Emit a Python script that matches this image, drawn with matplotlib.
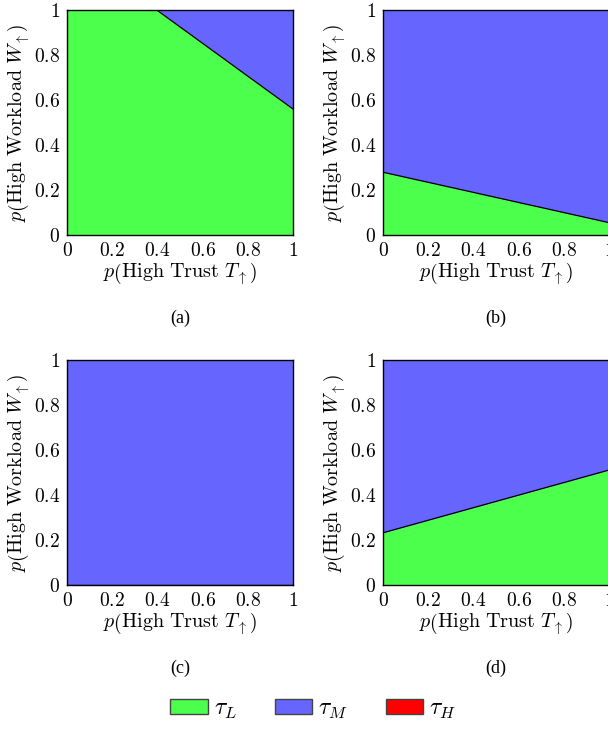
import numpy as np
import matplotlib
matplotlib.use('Agg')
import matplotlib.pyplot as plt
from matplotlib.patches import Patch

plt.rcParams['mathtext.fontset'] = 'cm'
plt.rcParams['font.family'] = 'serif'
plt.rcParams['font.serif'] = ['Liberation Serif', 'DejaVu Serif']

# boundary between tau_L (below) and tau_M (above) for each panel
panel_names = ['(a)', '(b)', '(c)', '(d)']
boundary_x = [
    [0.0, 0.397, 1.0],
    [0.0, 1.0],
    [0.0, 1.0],
    [0.0, 1.0],
]
boundary_y = [
    [1.0, 1.0, 0.56],
    [0.279, 0.055],
    [0.0, 0.0],
    [0.232, 0.511],
]
ticks = [0, 0.2, 0.4, 0.6, 0.8, 1]
tick_labels = ['0', '0.2', '0.4', '0.6', '0.8', '1']

legend_labels = [r'$\tau_L$', r'$\tau_M$', r'$\tau_H$']
c_low = '#4dff4d'
c_mid = '#6666ff'
c_high = '#ff0000'

W, H = 608, 731
fig = plt.figure(figsize=(W / 100, H / 100), dpi=100)

# axes positions in pixels: left, top
pos = [(67, 10), (383, 10), (67, 360), (383, 360)]
aw, ah = 226, 225

for i, (px, py) in enumerate(pos):
    ax = fig.add_axes([px / W, 1 - (py + ah) / H, aw / W, ah / H])
    x = np.array(boundary_x[i])
    y = np.array(boundary_y[i])
    ax.fill_between(x, 0, y, color=c_low, linewidth=0)
    ax.fill_between(x, y, 1, color=c_mid, linewidth=0)
    ax.plot(x, y, color='black', linewidth=0.9)
    ax.set_xlim(0, 1)
    ax.set_ylim(0, 1)
    ax.set_xticks(ticks)
    ax.set_yticks(ticks)
    ax.set_xticklabels(['$' + t + '$' for t in tick_labels], fontsize=14)
    ax.set_yticklabels(['$' + t + '$' for t in tick_labels], fontsize=14)
    ax.tick_params(length=0, pad=5)
    for s in ax.spines.values():
        s.set_linewidth(1.0)
    ax.set_xlabel(r'$p\left(\mathrm{High\ Trust}\ T_{\uparrow}\right)$', fontsize=14.5, labelpad=1)
    ax.set_ylabel(r'$p\left(\mathrm{High\ Workload}\ W_{\uparrow}\right)$', fontsize=14.5, labelpad=1)
    fig.text((px + aw / 2) / W, 1 - (py + 308) / H, panel_names[i],
             ha='center', va='center', fontsize=13)

handles = [Patch(facecolor=c, edgecolor='#444444', linewidth=1.0) for c in [c_low, c_mid, c_high]]
fig.legend(handles, legend_labels, loc='center', bbox_to_anchor=(0.515, 1 - 710 / H),
           ncol=3, frameon=False, fontsize=17, handlelength=1.6, handleheight=0.6,
           handletextpad=0.25, columnspacing=1.6)

fig.savefig('out.png', dpi=100)
